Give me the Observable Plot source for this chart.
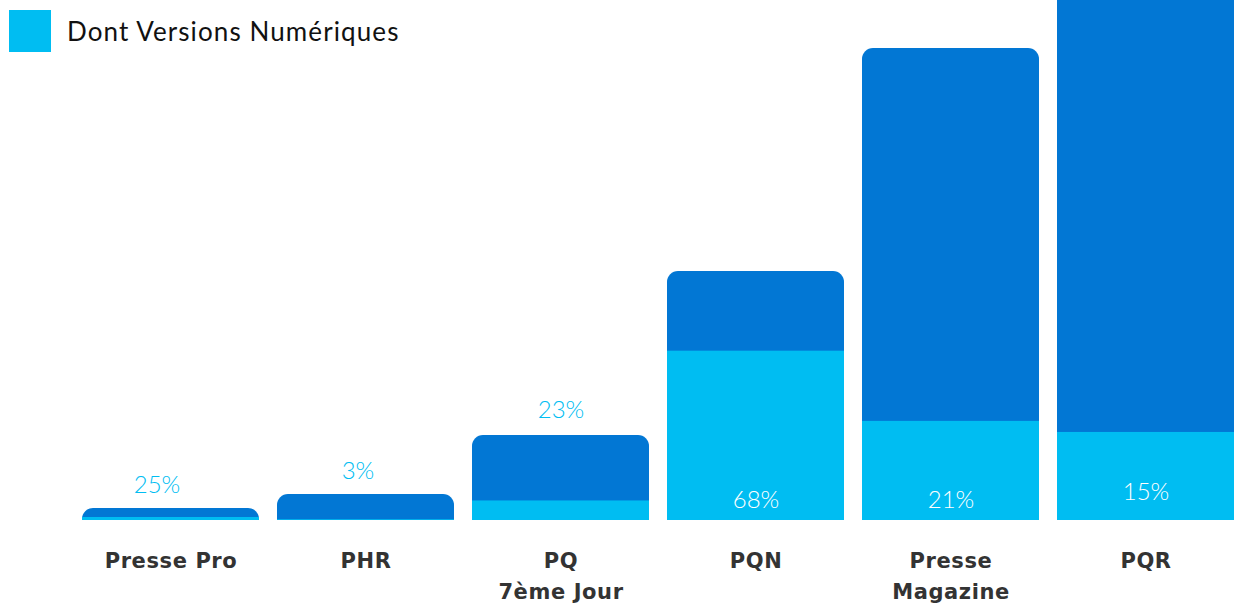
<!DOCTYPE html>
<html>
<head>
<meta charset="utf-8">
<script src="https://cdn.jsdelivr.net/npm/d3@7"></script>
<script src="https://cdn.jsdelivr.net/npm/@observablehq/plot@0.6"></script>
<style>
  html, body { margin: 0; padding: 0; background: #fff; }
  #wrap { position: relative; width: 1237px; height: 604px; overflow: hidden; }
  #legend { position: absolute; left: 9px; top: 10px; display: flex; align-items: center; font-family: Lato, "Open Sans", sans-serif; font-size: 26px; letter-spacing: 1.1px; color: #111; }
  #legend .sw { width: 42px; height: 42px; background: #00BDF2; margin-right: 16px; }
</style>
</head>
<body>
<div id="wrap">
  <div id="chart"></div>
  <div id="legend"><div class="sw"></div><span>Dont Versions Numériques</span></div>
</div>
<script>
const categories = ["Presse Pro", "PHR", "PQ\n7ème Jour", "PQN", "Presse\nMagazine", "PQR"];
const totals = [12, 26, 85, 249, 472, 587];
const digitalPct = [25, 3, 23, 68, 21, 15];

const dark = "#0277D4";
const light = "#00BDF2";

const data = categories.map((c, i) => ({
  cat: c,
  total: totals[i],
  pct: digitalPct[i],
  digital: totals[i] * digitalPct[i] / 100
}));

const byCat = c => data.filter(d => d.cat === c);
const pctText = d => d.pct + "%";
const pctStyle = { fontSize: 24, fontWeight: 300, lineAnchor: "middle" };

const chart = Plot.plot({
  width: 1237,
  height: 604,
  marginTop: 0,
  marginBottom: 84,
  marginLeft: 80,
  marginRight: 1,
  style: { fontFamily: "Lato, 'Open Sans', sans-serif", background: "#fff" },
  x: { domain: categories, paddingInner: 0.09, paddingOuter: 0, axis: null },
  y: { domain: [0, 520], axis: null },
  marks: [
    Plot.barY(data, { x: "cat", y: "total", fill: dark, rx: 11, insetBottom: -24, clip: true }),
    Plot.barY(data, { x: "cat", y: "digital", fill: light }),
    // labels above the bars (small digital share)
    Plot.text(byCat("Presse Pro"), { x: "cat", y: "total", text: pctText, dy: -23, dx: -14, fill: light, ...pctStyle }),
    Plot.text(byCat("PHR"), { x: "cat", y: "total", text: pctText, dy: -23, dx: -8, fill: light, ...pctStyle }),
    Plot.text(byCat("PQ\n7ème Jour"), { x: "cat", y: "total", text: pctText, dy: -25, fill: light, ...pctStyle }),
    // labels inside the digital part
    Plot.text(data.filter(d => d.cat === "PQN" || d.cat === "Presse\nMagazine"), { x: "cat", y: 0, text: pctText, dy: -20, fill: "#fff", ...pctStyle }),
    Plot.text(byCat("PQR"), { x: "cat", y: 0, text: pctText, dy: -28, fill: "#fff", ...pctStyle }),
    // category labels
    Plot.text(data, { x: "cat", y: 0, text: "cat", dy: 25, lineAnchor: "top", lineHeight: 1.48, fill: "#333", fontSize: 21, fontWeight: "bold", fontFamily: "'DejaVu Sans', sans-serif" })
  ]
});
d3.select(chart).selectAll('g[font-weight="bold"] text').style("letter-spacing", "0.6px");
document.getElementById("chart").appendChild(chart);
</script>
</body>
</html>
